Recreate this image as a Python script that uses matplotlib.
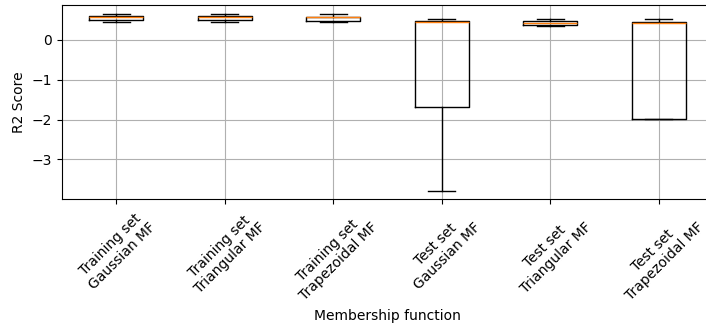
import matplotlib
matplotlib.use("Agg")
import matplotlib.pyplot as plt

# box statistics
labels = ["Training set\nGaussian MF", "Training set\nTriangular MF", "Training set\nTrapezoidal MF",
          "Test set\nGaussian MF", "Test set\nTriangular MF", "Test set\nTrapezoidal MF"]
whishi = [0.64, 0.64, 0.64, 0.51, 0.53, 0.51]
q3 = [0.60, 0.60, 0.58, 0.47, 0.47, 0.45]
med = [0.57, 0.57, 0.56, 0.44, 0.43, 0.43]
q1 = [0.49, 0.49, 0.48, -1.675, 0.38, -1.99]
whislo = [0.44, 0.44, 0.44, -3.79, 0.34, -1.99]

stats = []
for i in range(len(labels)):
    stats.append({"label": labels[i], "whishi": whishi[i], "q3": q3[i], "med": med[i],
                  "q1": q1[i], "whislo": whislo[i], "fliers": []})

fig = plt.figure(figsize=(7.06, 3.28), dpi=100)
ax = fig.add_axes([62/706, (328-199)/328, 651/706, 194/328])
ax.bxp(stats, widths=0.5, showfliers=False)
ax.grid(True)
ax.set_ylim(-3.99, 0.87)
ax.set_yticks([0, -1, -2, -3])
ax.set_xticks(range(1, len(labels)+1))
ax.set_xticklabels(labels, rotation=45)
ax.set_xlabel("Membership function")
ax.set_ylabel("R2 Score")
fig.savefig("out.png", dpi=100)
